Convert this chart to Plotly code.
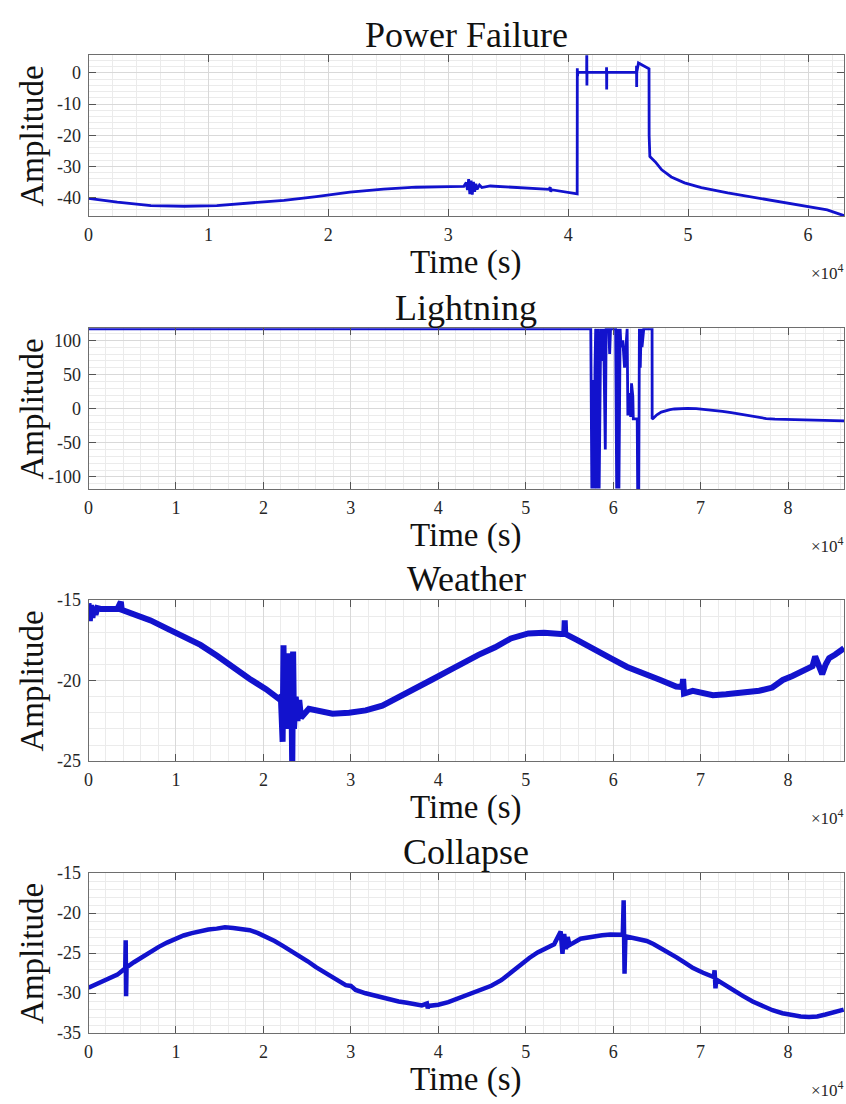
import plotly.graph_objects as go

FONT = "Liberation Serif, Times New Roman, Times, serif"
LINE_COLOR = "rgb(18,18,205)"
W, H = 846, 1104

# ---------------- Power Failure ----------------
pf_time = [0, 2400, 5200, 8000, 10700, 13500, 16300, 19000, 21800, 24600,
           27300, 30100, 31300, 31500, 31600, 31700, 31800, 31900, 32000, 32100,
           32200, 32300, 32400, 32600, 32800, 33500, 34000, 36700, 38400, 38500,
           38550, 38600, 40700, 40750, 40760, 40780, 40800, 41540, 41550, 41560,
           41570, 43190, 43200, 43210, 43220, 45690, 45700, 45710, 45720, 45860,
           46740, 46750, 46770, 46790, 46810, 46850, 47300, 47800, 48600, 49700,
           51100, 53300, 56100, 58800, 61600, 63000]
pf_amp = [-40.3, -41.5, -42.6, -42.8, -42.6, -41.7, -40.9, -39.7, -38.3, -37.3,
          -36.7, -36.5, -36.4, -35.2, -37.6, -34.1, -38.9, -34.6, -39.1, -35.0,
          -38.2, -35.6, -37.4, -36.0, -36.8, -36.3, -36.4, -37.0, -37.4, -36.7,
          -38.2, -37.5, -38.7, -38.8, 1.5, -1.0, 0.2, 0.2, 8.0, -4.0,
          0.2, 0.2, 1.8, -5.3, 0.2, 0.2, 2.3, -4.5, 0.2, 3.2,
          1.3, -20.2, -26.6, -20.5, -26.8, -27.0, -28.7, -31.1, -33.4, -35.3,
          -36.8, -38.5, -40.3, -42.1, -44.0, -45.8]

# ---------------- Lightning ----------------
lt_time = [0, 57440, 57560, 57630, 57700, 57750, 57800, 57850, 57920, 58000,
           58100, 58180, 58250, 58400, 58480, 58580, 58700, 58900, 59100, 59200,
           59500, 59600, 59700, 60280, 60400, 60470, 60550, 60660, 60800, 60900,
           61100, 61300, 61600, 61680, 61750, 61900, 62000, 62100, 62250, 62300,
           62750, 62800, 62930, 63000, 63100, 63200, 63300, 63500, 64450, 64460,
           64600, 65000, 65500, 66000, 66500, 67000, 67500, 68500, 69500, 70500,
           71500, 72500, 73500, 74500, 75500, 76500, 77500, 78500, 80000, 82000,
           84000, 86400]
lt_amp = [117, 117, -117, -15, -68, -117, 42, -117, 60, 117,
          -117, 40, 117, -117, -30, 117, 70, 117, -60, 117,
          117, 80, 117, 117, -117, 50, 117, -117, 117, 90,
          100, 60, 117, -10, 4, 23, -12, 37, 18, -15,
          -15, -117, -117, 117, 60, 117, 90, 117, 117, -15.2,
          -14, -9, -5, -3, -1.5, -0.5, 0, 0.3, 0, -1,
          -2.5, -4, -6, -8, -10.5, -13, -14.5, -15.5, -16, -16.8,
          -17.3, -17.8]

# ---------------- Weather ----------------
wx_time = [0, 150, 300, 450, 600, 800, 1000, 1400, 3300, 3700,
           3800, 5200, 7100, 9000, 10900, 12800, 14700, 16600, 18400, 20300,
           21700, 22000, 22200, 22300, 22400, 22500, 22700, 22900, 23000, 23200,
           23300, 23400, 23500, 23700, 23900, 24100, 24300, 25200, 27900, 29800,
           31700, 33600, 35500, 37400, 39200, 41100, 42700, 44600, 46500, 48300,
           50300, 52100, 54000, 54400, 54460, 54520, 55900, 57800, 59700, 61600,
           63500, 65400, 67200, 67900, 68000, 68100, 69100, 71400, 72900, 74800,
           76700, 78200, 79400, 80500, 82000, 82800, 83100, 83500, 83900, 84300,
           84700, 85400, 86400]
wx_amp = [-15.2, -16.3, -15.3, -16.1, -15.4, -15.9, -15.5, -15.55, -15.55, -15.1,
          -15.6, -15.85, -16.26, -16.77, -17.28, -17.78, -18.46, -19.21, -19.88, -20.53,
          -21.1, -21.0, -23.8, -17.8, -22.5, -20.0, -23.0, -18.3, -22.0, -20.5,
          -25.5, -18.2, -23.0, -21.0, -22.5, -21.2, -22.3, -21.75, -22.05, -22.0,
          -21.85, -21.55, -21.04, -20.53, -19.96, -19.41, -18.9, -18.4, -17.93, -17.38,
          -17.07, -17.03, -17.11, -17.1, -16.26, -17.1, -17.48, -17.99, -18.6, -19.15,
          -19.51, -19.96, -20.37, -20.4, -19.9, -20.8, -20.63, -20.9, -20.84, -20.74,
          -20.63, -20.43, -19.96, -19.71, -19.35, -19.1, -18.5, -19.0, -19.6, -19.0,
          -18.6, -18.38, -17.99]

# ---------------- Collapse ----------------
cl_time = [0, 1415, 3307, 4200, 4253, 4300, 4350, 5198, 6144, 7090,
           8036, 8982, 9928, 10874, 11820, 12766, 13712, 14657, 15603, 16549,
           17495, 18441, 19387, 20333, 21279, 22225, 23171, 24117, 25063, 26009,
           26955, 27901, 28658, 29414, 30000, 30549, 31684, 32630, 33576, 34522,
           35468, 36414, 37359, 38116, 38700, 38800, 38900, 40008, 41143, 41900,
           42656, 43790, 44920, 46060, 47200, 48330, 49460, 50410, 51360, 52300,
           53250, 54000, 54200, 54400, 54600, 54800, 55000, 56270, 57030, 57790,
           58730, 59680, 60630, 61100, 61200, 61300, 61400, 62330, 63090, 63840,
           64600, 65350, 66300, 67250, 68190, 69140, 70280, 71500, 71600, 71700,
           71800, 72550, 73680, 74820, 75950, 77090, 78220, 79360, 80500, 81440,
           82390, 83340, 84280, 85420, 86360]
cl_amp = [-29.33, -28.67, -27.69, -26.9, -23.4, -30.4, -26.8, -26.14, -25.45, -24.84,
          -24.22, -23.69, -23.2, -22.8, -22.51, -22.27, -22.06, -21.94, -21.78, -21.86,
          -21.98, -22.14, -22.51, -22.96, -23.49, -24.1, -24.71, -25.33, -26.02, -26.76,
          -27.37, -27.98, -28.51, -29.0, -29.1, -29.61, -30.02, -30.31, -30.55, -30.8,
          -31.04, -31.2, -31.37, -31.53, -31.3, -31.9, -31.6, -31.45, -31.12, -30.8,
          -30.43, -30.1, -29.61, -29.08, -28.39, -27.37, -26.35, -25.61, -24.92, -24.39,
          -23.9, -22.3, -25.1, -22.6, -24.5, -23.0, -24.0, -23.2, -23.04, -22.88,
          -22.76, -22.67, -22.67, -22.7, -18.39, -27.57, -22.9, -23.08, -23.24, -23.49,
          -23.86, -24.31, -24.92, -25.53, -26.18, -26.88, -27.45, -28.0, -27.16, -29.41,
          -28.3, -28.84, -29.61, -30.35, -31.04, -31.61, -32.14, -32.51, -32.76, -32.92,
          -33.0, -32.92, -32.67, -32.39, -32.06]

# Axis tick labels
x_tick_labels_pf = ["0", "1", "2", "3", "4", "5", "6"]
x_tick_labels_day = ["0", "1", "2", "3", "4", "5", "6", "7", "8"]
y_tick_vals_pf = [0, -10, -20, -30, -40]
y_tick_vals_lt = [100, 50, 0, -50, -100]
y_tick_vals_wx = [-15, -20, -25]
y_tick_vals_cl = [-15, -20, -25, -30, -35]

panels = [
    dict(title="Power Failure", t=pf_time, a=pf_amp, xmax=63000,
         xlabels=x_tick_labels_pf, yvals=y_tick_vals_pf, yrange=[-46, 5.7],
         yminor=2, top=46, bottom=210, lw=2.8),
    dict(title="Lightning", t=lt_time, a=lt_amp, xmax=86400,
         xlabels=x_tick_labels_day, yvals=y_tick_vals_lt, yrange=[-118, 118],
         yminor=10, top=324, bottom=488, lw=2.8),
    dict(title="Weather", t=wx_time, a=wx_amp, xmax=86400,
         xlabels=x_tick_labels_day, yvals=y_tick_vals_wx, yrange=[-25, -15],
         yminor=1, top=601, bottom=765, lw=6),
    dict(title="Collapse", t=cl_time, a=cl_amp, xmax=86400,
         xlabels=x_tick_labels_day, yvals=y_tick_vals_cl, yrange=[-35, -15],
         yminor=1, top=879, bottom=1042, lw=4.5),
]

def px_x(p):
    return p / W

def px_y(p):
    return 1 - p / H

X_LEFT, X_RIGHT = 84, 844
X_MID = (X_LEFT + X_RIGHT) / 2

fig = go.Figure()
annotations = []
layout_axes = {}

for i, p in enumerate(panels, start=1):
    sfx = "" if i == 1 else str(i)
    fig.add_trace(go.Scatter(
        x=p["t"], y=p["a"], mode="lines",
        line=dict(color=LINE_COLOR, width=p["lw"]),
        xaxis="x" + sfx, yaxis="y" + sfx,
        showlegend=False, hoverinfo="skip",
    ))
    xvals = [k * 10000 for k in range(len(p["xlabels"]))]
    common = dict(
        showline=True, linecolor="#6e6e6e", linewidth=1, mirror="ticks",
        ticks="inside", ticklen=7, tickcolor="#555555", tickwidth=1,
        showgrid=True, gridcolor="#d9d9d9", gridwidth=1, zeroline=False,
        tickfont=dict(family=FONT, size=18, color="#262626"),
    )
    layout_axes["xaxis" + sfx] = dict(
        common, domain=[px_x(X_LEFT), px_x(X_RIGHT)], anchor="y" + sfx,
        range=[0, p["xmax"]], tickmode="array", tickvals=xvals,
        ticktext=p["xlabels"], ticklabelstandoff=2,
        minor=dict(tickmode="linear", tick0=0, dtick=2000, showgrid=True,
                   gridcolor="#ebebeb", gridwidth=1, ticklen=0),
    )
    layout_axes["yaxis" + sfx] = dict(
        common, domain=[px_y(p["bottom"]), px_y(p["top"])], anchor="x" + sfx,
        range=p["yrange"], tickmode="array", tickvals=p["yvals"],
        ticktext=[str(v) for v in p["yvals"]],
        ticklabelstandoff=3,
        minor=dict(tickmode="linear", tick0=0, dtick=p["yminor"], showgrid=True,
                   gridcolor="#ebebeb", gridwidth=1, ticklen=0),
    )
    annotations += [
        dict(text=p["title"], x=px_x(X_MID), y=px_y(p["top"] - 21),
             xanchor="center", yanchor="middle",
             font=dict(family=FONT, size=36, color="#111111")),
        dict(text="Time (s)", x=px_x(X_MID), y=px_y(p["bottom"] + 47),
             xanchor="center", yanchor="middle",
             font=dict(family=FONT, size=33, color="#111111")),
        dict(text="\u00d710<sup>4</sup>", x=px_x(846), y=px_y(p["bottom"] + 57),
             xanchor="right", yanchor="middle",
             font=dict(family=FONT, size=17, color="#262626")),
        dict(text="Amplitude", x=px_x(27), y=px_y((p["top"] + p["bottom"]) / 2),
             xanchor="center", yanchor="middle", textangle=-90,
             font=dict(family=FONT, size=33, color="#111111")),
    ]

for a in annotations:
    a.update(xref="paper", yref="paper", showarrow=False)

fig.update_layout(
    width=W, height=H, margin=dict(l=0, r=0, t=0, b=0),
    paper_bgcolor="white", plot_bgcolor="white",
    annotations=annotations, **layout_axes,
)

fig.write_html("out.html")
